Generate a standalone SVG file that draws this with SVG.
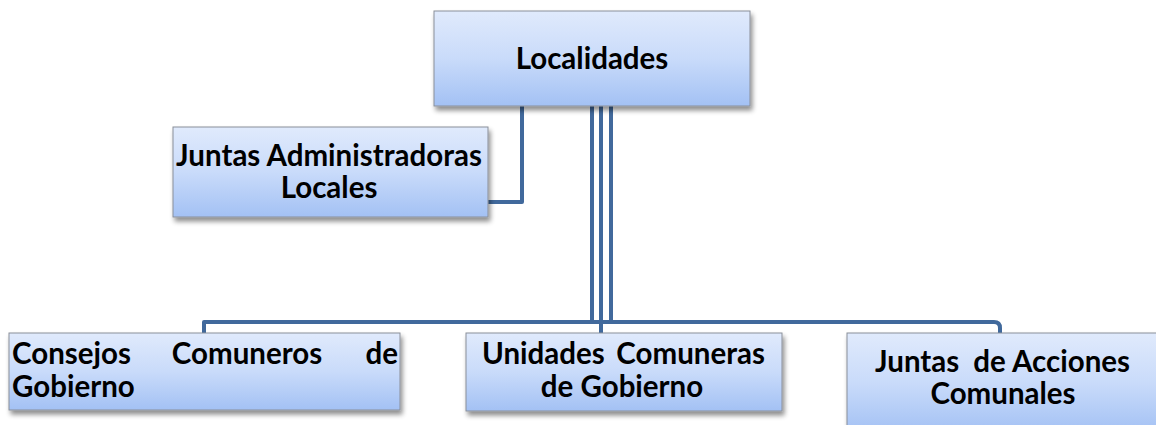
<svg xmlns="http://www.w3.org/2000/svg" width="1156" height="425" viewBox="0 0 1156 425">
<defs>
<linearGradient id="g" x1="0" y1="0" x2="0" y2="1">
<stop offset="0" stop-color="#e0eafc"/>
<stop offset="0.5" stop-color="#c9dbfa"/>
<stop offset="1" stop-color="#a3c1f4"/>
</linearGradient>
<filter id="sh" x="-10%" y="-10%" width="125%" height="140%">
<feGaussianBlur in="SourceAlpha" stdDeviation="2.5"/>
<feOffset dx="2" dy="4"/>
<feComponentTransfer><feFuncA type="linear" slope="0.45"/></feComponentTransfer>
<feMerge><feMergeNode/><feMergeNode in="SourceGraphic"/></feMerge>
</filter>
</defs>
<style>
.box{fill:url(#g);stroke:#8a8f99;stroke-width:1;filter:url(#sh)}
.t{font-family:Lato,"Open Sans","Liberation Sans",sans-serif;font-weight:bold;font-size:29.5px;fill:#000}
.c{text-anchor:middle}
.e{text-anchor:end}
.ln{fill:none;stroke:#41699c;stroke-width:4;stroke-linejoin:round}
</style>
<g id="connectors">
<path class="ln" d="M522 104 V202 H488"/>
<path class="ln" d="M592 104 V322 H204 V335"/>
<path class="ln" d="M601 104 V335"/>
<path class="ln" d="M611 104 V322 H994 Q1000 322 1000 328 V335"/>
<path class="ln" d="M590 322 H613"/>
</g>
<g id="localidades">
<rect class="box" x="434" y="11" width="316" height="95"/>
<text class="t c" x="592" y="69">Localidades</text>
</g>
<g id="juntas-administradoras">
<rect class="box" x="173" y="127" width="315" height="90"/>
<text class="t c" x="329" y="166">Juntas Administradoras</text>
<text class="t c" x="329" y="198">Locales</text>
</g>
<g id="consejos">
<rect class="box" x="9" y="333" width="391" height="77"/>
<text class="t" y="364"><tspan x="12">Consejos</tspan><tspan x="247" class="c">Comuneros</tspan><tspan x="398" class="e">de</tspan></text>
<text class="t" x="12" y="397">Gobierno</text>
</g>
<g id="unidades">
<rect class="box" x="466" y="333" width="316" height="78"/>
<text class="t" y="364"><tspan x="482">Unidades</tspan><tspan x="765" class="e">Comuneras</tspan></text>
<text class="t c" x="622" y="397">de Gobierno</text>
</g>
<g id="juntas-acciones">
<rect class="box" x="847" y="333" width="320" height="100"/>
<text class="t" y="372"><tspan x="875">Juntas</tspan><tspan x="1130" class="e">de Acciones</tspan></text>
<text class="t c" x="1003" y="404">Comunales</text>
</g>
</svg>
